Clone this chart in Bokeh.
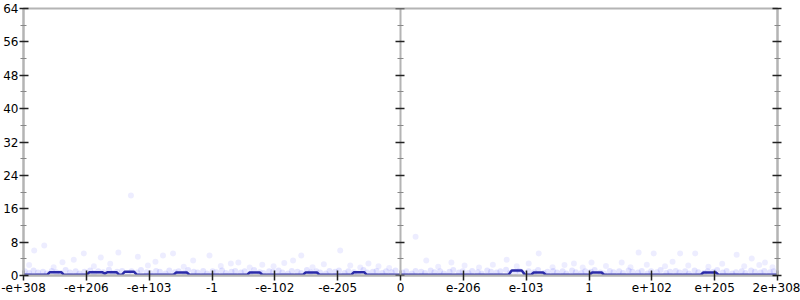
from bokeh.plotting import figure
from bokeh.models import LinearAxis, FixedTicker
from bokeh.embed import file_html
from bokeh.resources import INLINE

# ---- tick data ----
x_ticks = [-6, -5, -4, -3, -2, -1, 0, 1, 2, 3, 4, 5, 6]
x_labels = ["-e+308", "-e+206", "-e+103", "-1", "-e-102", "-e-205", "0",
            "e-206", "e-103", "1", "e+102", "e+205", "2e+308"]
y_ticks = [0, 8, 16, 24, 32, 40, 48, 56, 64]
y_minor = [4, 12, 20, 28, 36, 44, 52, 60]

# ---- average line ----
line_x = [-6.0, -5.62, -5.58, -5.40, -5.36, -4.99, -4.95, -4.75, -4.71, -4.70, -4.66, -4.52, -4.48,
          -4.43, -4.39, -4.24, -4.20, -3.61, -3.57, -3.40, -3.36, -2.44, -2.40, -2.24, -2.20,
          -1.55, -1.51, -1.33, -1.29, -0.78, -0.74, -0.58, -0.54, 1.72, 1.77, 1.93, 1.98,
          2.08, 2.12, 2.27, 2.31, 3.01, 3.05, 3.20, 3.24, 4.78, 4.82, 5.02, 5.06, 6.0]
line_y = [0.2, 0.2, 0.8, 0.8, 0.2, 0.2, 0.8, 0.8, 0.5, 0.5, 0.8, 0.8, 0.2,
          0.2, 0.9, 0.9, 0.2, 0.2, 0.7, 0.7, 0.2, 0.2, 0.7, 0.7, 0.2,
          0.2, 0.7, 0.7, 0.2, 0.2, 0.8, 0.8, 0.2, 0.2, 1.2, 1.2, 0.2,
          0.2, 0.7, 0.7, 0.2, 0.2, 0.7, 0.7, 0.2, 0.2, 0.7, 0.7, 0.2, 0.2]

# ---- individual samples ----
band_x = [-5.98, -5.91, -5.84, -5.77, -5.69, -5.63, -5.55, -5.48, -5.41, -5.33, -5.26, -5.17,
          -5.11, -5.03, -4.94, -4.88, -4.81, -4.73, -4.64, -4.58, -4.51, -4.43, -4.34, -4.28,
          -4.19, -4.13, -4.04, -3.98, -3.89, -3.83, -3.74, -3.68, -3.59, -3.53, -3.44, -3.38,
          -3.29, -3.23, -3.14, -3.08, -2.99, -2.93, -2.84, -2.78, -2.69, -2.63, -2.54, -2.48,
          -2.39, -2.33, -2.24, -2.18, -2.09, -2.03, -1.94, -1.88, -1.79, -1.73, -1.64, -1.58,
          -1.49, -1.43, -1.34, -1.28, -1.19, -1.13, -1.04, -0.98, -0.89, -0.83, -0.74, -0.68,
          -0.59, -0.53, -0.44, -0.38, -0.29, -0.23, -0.14, -0.08, 0.03, 0.09, 0.18, 0.24,
          0.33, 0.39, 0.48, 0.54, 0.63, 0.69, 0.78, 0.84, 0.93, 0.99, 1.08, 1.14, 1.23, 1.29,
          1.38, 1.44, 1.53, 1.59, 1.68, 1.74, 1.83, 1.89, 1.98, 2.04, 2.13, 2.19, 2.28, 2.34,
          2.43, 2.49, 2.58, 2.64, 2.73, 2.79, 2.88, 2.94, 3.03, 3.09, 3.18, 3.24, 3.33, 3.39,
          3.48, 3.54, 3.63, 3.69, 3.78, 3.84, 3.93, 3.99, 4.08, 4.14, 4.23, 4.29, 4.38, 4.44,
          4.53, 4.59, 4.68, 4.74, 4.83, 4.89, 4.98, 5.04, 5.13, 5.19, 5.28, 5.34, 5.43, 5.49,
          5.58, 5.64, 5.73, 5.79, 5.88, 5.94]
band_y = [1.0, 0.6, 1.2, 0.7, 0.9, 0.5, 1.1, 0.8, 0.6, 1.3, 0.7, 1.0, 0.5, 0.9, 1.2, 0.6,
          1.0, 0.8, 1.4, 0.6, 0.9, 1.1, 0.5, 1.0, 0.7, 1.3, 0.8, 0.6, 1.1, 0.9, 0.5, 1.2,
          0.8, 1.0, 0.6, 1.3, 0.9, 0.7, 1.1, 0.5, 1.0, 0.8, 1.2, 0.6, 0.9, 1.1, 0.7, 1.0,
          0.5, 1.3, 0.8, 0.6, 1.0, 0.9, 1.2, 0.7, 0.5, 1.1, 0.9, 0.6, 1.3, 0.8, 1.0, 0.7,
          0.5, 1.1, 0.9, 1.2, 0.6, 1.0, 0.8, 0.5, 1.3, 0.7, 0.9, 1.1, 0.6, 1.0, 0.8, 1.2,
          0.7, 1.0, 0.5, 1.1, 0.9, 0.6, 1.2, 0.8, 1.0, 0.5, 0.9, 1.3, 0.7, 1.0, 0.6, 1.1,
          0.8, 0.5, 1.2, 0.9, 0.7, 1.0, 1.4, 0.6, 0.9, 1.1, 0.5, 1.0, 0.8, 1.3, 0.6, 0.9,
          1.1, 0.7, 1.0, 0.5, 1.2, 0.8, 0.6, 1.0, 0.9, 1.3, 0.7, 0.5, 1.1, 0.8, 1.0, 0.6,
          1.2, 0.9, 0.7, 1.1, 0.5, 1.0, 0.8, 1.3, 0.6, 0.9, 1.1, 0.7, 1.0, 0.5, 1.2, 0.8,
          0.6, 1.0, 0.9, 1.3, 0.7, 1.1, 0.5, 0.8, 1.0, 0.6, 1.2, 0.9, 0.7, 1.1, 0.8, 1.0]
high_x = [-5.91, -5.83, -5.67, -5.52, -5.38, -5.20, -5.04, -4.88, -4.77, -4.62, -4.49, -4.29,
          -4.18, -4.02, -3.90, -3.78, -3.62, -3.45, -3.30, -3.04, -2.86, -2.70, -2.58, -2.40,
          -2.20, -2.02, -1.85, -1.71, -1.58, -1.40, -1.22, -0.96, -0.80, -0.64, -0.51, -0.35,
          -0.18, 0.24, 0.41, 0.60, 0.81, 1.02, 1.25, 1.47, 1.69, 1.85, 2.04, 2.20, 2.42, 2.61,
          2.76, 2.90, 3.04, 3.27, 3.52, 3.66, 3.79, 3.92, 4.03, 4.21, 4.33, 4.45, 4.58, 4.69,
          4.90, 5.12, 5.35, 5.47, 5.59, 5.71, 5.80, 5.92]
high_y = [2.5, 6.0, 7.2, 2.0, 3.2, 3.8, 5.3, 2.2, 4.3, 2.8, 5.5, 19.2,
          4.5, 2.4, 3.3, 4.8, 5.3, 2.1, 3.6, 4.8, 2.3, 2.9, 3.1, 1.9,
          2.6, 2.2, 3.0, 3.6, 4.8, 2.0, 2.7, 6.0, 2.4, 1.9, 2.9, 2.2,
          1.8, 9.3, 3.6, 2.1, 3.1, 2.4, 1.9, 2.6, 3.8, 2.2, 2.9, 5.3, 2.0, 2.5,
          2.9, 1.9, 3.1, 2.3, 3.1, 2.0, 5.5, 2.6, 5.3, 2.2, 3.3, 5.3, 2.4, 5.3,
          2.1, 2.8, 5.0, 2.2, 4.1, 2.5, 3.1, 2.0]

GREY = "#b4b4b4"
FONT = "DejaVu Sans"

p = figure(width=800, height=300, x_range=(-6, 6), y_range=(0, 64),
           x_axis_type=None, y_axis_type=None,
           output_backend="svg", toolbar_location=None)
p.min_border_left = 23
p.min_border_right = 23
p.min_border_top = 8
p.min_border_bottom = 25
p.xgrid.visible = False
p.ygrid.visible = False
p.outline_line_color = GREY
p.outline_line_width = 2
p.background_fill_color = "white"
p.border_fill_color = "white"

def style_y(ax, labels=True):
    ax.ticker = FixedTicker(ticks=y_ticks, minor_ticks=y_minor)
    ax.axis_line_color = GREY
    ax.axis_line_width = 2
    ax.major_tick_line_color = "#222222"
    ax.major_tick_line_width = 1.5
    ax.major_tick_in = 5
    ax.major_tick_out = 4
    ax.minor_tick_line_color = "#888888"
    ax.minor_tick_line_width = 1
    ax.minor_tick_in = 3
    ax.minor_tick_out = 3
    ax.major_label_text_font = FONT
    ax.major_label_text_font_size = "12px"
    ax.major_label_text_color = "black"
    ax.major_label_standoff = 1
    if not labels:
        ax.major_label_text_font_size = "0px"
        ax.major_label_text_alpha = 0

yl = LinearAxis()
style_y(yl)
p.add_layout(yl, "left")

yr = LinearAxis()
style_y(yr, labels=False)
p.add_layout(yr, "right")

yc = LinearAxis(fixed_location=0)
style_y(yc, labels=False)
p.add_layout(yc, "right")

xb = LinearAxis(ticker=FixedTicker(ticks=x_ticks))
xb.major_label_overrides = {t: l for t, l in zip(x_ticks, x_labels)}
xb.axis_line_color = GREY
xb.axis_line_width = 2
xb.major_tick_line_color = "#222222"
xb.major_tick_line_width = 1.5
xb.major_tick_in = 5
xb.major_tick_out = 5
xb.minor_tick_line_color = None
xb.major_label_text_font = FONT
xb.major_label_text_font_size = "12px"
xb.major_label_text_color = "black"
xb.major_label_standoff = 2
p.add_layout(xb, "below")

p.scatter(band_x, band_y, size=6, fill_color="#0000ff", fill_alpha=0.10, line_color=None)
p.scatter(high_x, high_y, size=6, fill_color="#0000ff", fill_alpha=0.07, line_color=None)
p.line(line_x, line_y, line_color="#2a2aa8", line_width=2.5)

open("out.html", "w").write(file_html(p, INLINE))
